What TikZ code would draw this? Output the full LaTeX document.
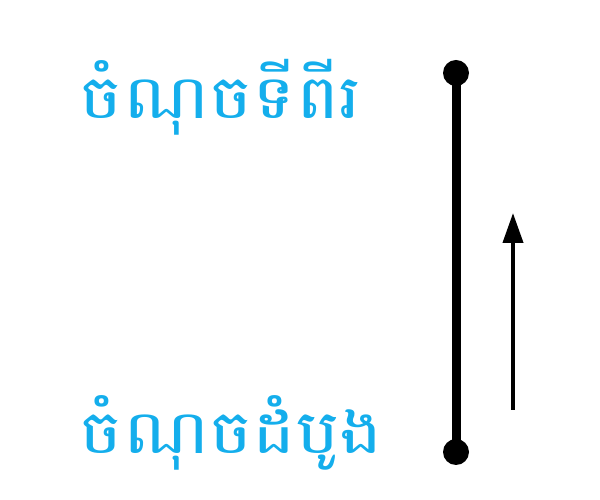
\documentclass[tikz,border=0pt]{standalone}
\usepackage{fontspec}
\newfontfamily\khmerfont[Script=Khmer]{Battambang}
\usetikzlibrary{arrows.meta}
\definecolor{labelblue}{RGB}{20,174,236}

\begin{document}
\begin{tikzpicture}[x=0.025cm, y=0.025cm, line width=1pt]
    % fix the margins
    \useasboundingbox (0, 0) rectangle (600, 500);

    % draw end points
    \node[circle, fill=black, inner sep=0pt, minimum size=26*0.025cm] (second) at (456, 427) {};
    \node[circle, fill=black, inner sep=0pt, minimum size=26*0.025cm] (first) at (456, 48) {};
    \draw[line width=9*0.025cm] (first.center) -- (second.center);

    % draw direction arrow
    \coordinate (tail) at (513, 90);
    \coordinate (head) at (513, 287);
    \draw[line width=4*0.025cm, -{Triangle[length=30*0.025cm, width=20*0.025cm]}] (tail) -- (head);

    % draw labels
    \node[anchor=west, inner sep=0pt, xscale=1.2, text=labelblue, font=\khmerfont\fontsize{43}{50}\selectfont] (secondlabel) at (79, 403) {ចំណុចទីពីរ};
    \node[anchor=west, inner sep=0pt, xscale=1.2, text=labelblue, font=\khmerfont\fontsize{43}{50}\selectfont] (firstlabel) at (79, 67) {ចំណុចដំបូង};
\end{tikzpicture}
\end{document}
